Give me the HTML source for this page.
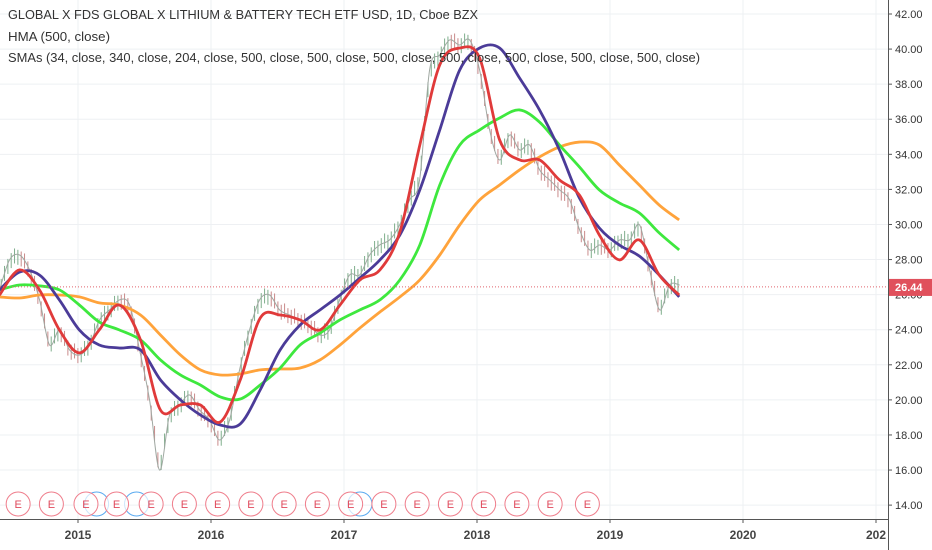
<!DOCTYPE html>
<html><head><meta charset="utf-8"><style>
html,body{margin:0;padding:0;background:#fff;}
svg{display:block;font-family:"Liberation Sans",sans-serif;}
</style></head><body>
<svg id="chart" width="932" height="550" viewBox="0 0 932 550" xmlns="http://www.w3.org/2000/svg">
<g id="grid"></g>
<g id="candles"></g>
<g id="lines"></g>
<g id="earn"></g>
<g id="axes"></g>
<g font-size="12.5" fill="#333">
<text x="8" y="19" textLength="470" lengthAdjust="spacingAndGlyphs">GLOBAL X FDS GLOBAL X LITHIUM &amp; BATTERY TECH ETF USD, 1D, Cboe BZX</text>
<text x="8" y="41" textLength="102" lengthAdjust="spacingAndGlyphs">HMA (500, close)</text>
<text x="8" y="62" textLength="692" lengthAdjust="spacingAndGlyphs">SMAs (34, close, 340, close, 204, close, 500, close, 500, close, 500, close, 500, close, 500, close, 500, close, 500, close)</text>
</g>
</svg>
<script>
const maDates=[2014.41,2014.56,2014.71,2014.86,2015.01,2015.16,2015.31,2015.47,2015.62,2015.77,2015.92,2016.07,2016.22,2016.37,2016.52,2016.67,2016.82,2016.97,2017.12,2017.27,2017.42,2017.57,2017.72,2017.87,2018.02,2018.17,2018.32,2018.47,2018.62,2018.77,2018.92,2019.07,2019.22,2019.37,2019.52];
const hma=[26.27,27.29,27.12,25.70,23.99,23.13,22.96,22.85,21.14,20.00,19.14,18.57,18.63,20.57,22.85,24.27,25.13,25.98,26.95,27.98,29.40,31.97,35.39,38.81,40.06,40.06,38.35,36.53,34.25,31.51,29.80,28.83,28.20,27.12,25.87];
const smaGreen=[26.27,26.55,26.50,26.27,25.41,24.44,23.99,23.42,22.28,21.42,20.85,20.17,20.05,20.85,21.82,23.13,23.81,24.56,25.13,25.70,26.84,28.83,32.25,34.53,35.39,36.07,36.53,35.84,34.53,33.28,31.97,31.23,30.66,29.52,28.55];
const smaOrange=[25.87,25.81,25.98,25.98,25.87,25.53,25.41,24.84,23.70,22.56,21.71,21.42,21.48,21.71,21.76,21.82,22.28,23.13,24.10,25.01,25.87,26.84,28.26,29.97,31.40,32.25,33.11,33.85,34.42,34.70,34.53,33.39,32.25,31.11,30.26];
const smaRed=[25.98,27.41,26.27,23.99,22.68,23.99,25.41,23.42,19.42,19.71,19.71,18.74,21.14,24.67,24.84,24.56,23.99,25.41,26.84,27.41,29.57,34.53,39.10,40.06,39.49,34.82,33.68,33.68,32.54,31.68,29.40,27.98,29.12,27.12,25.98];
const closes=[26.27,27.98,28.26,27.41,25.70,23.13,23.99,22.85,22.56,23.13,24.56,25.13,25.70,25.41,22.85,20.00,16.00,19.14,19.71,20.28,19.42,18.85,17.71,18.85,21.71,23.99,25.70,25.98,25.13,24.84,24.56,24.27,23.70,23.99,25.70,27.12,27.12,28.26,28.83,29.12,29.97,31.40,32.54,38.81,39.66,40.52,40.23,40.52,38.81,35.39,33.68,35.10,34.25,34.53,33.11,32.54,31.97,31.40,29.69,28.55,28.83,28.55,29.12,29.12,29.97,27.41,25.13,26.55,26.55];
const priceStart=2014.41, priceStep=0.0752;
const priceTicks=[42,40,38,36,34,32,30,28,26,24,22,20,18,16,14];
const yearTicks=[2015,2016,2017,2018,2019,2020,2021];
const yearLabels=["2015","2016","2017","2018","2019","2020","202"];
const earnDates=[2014.55,2014.80,2015.06,2015.29,2015.55,2015.80,2016.05,2016.30,2016.55,2016.80,2017.05,2017.30,2017.55,2017.80,2018.05,2018.30,2018.55,2018.83];
const divDates=[2015.14,2015.44,2017.12];
const lastPrice=26.44;

const NS="http://www.w3.org/2000/svg";
const X=t=>78+(t-2015)*133;
const Y=p=>14+(42-p)*17.54;
function mk(tag,attrs,parent){const e=document.createElementNS(NS,tag);for(const k in attrs)e.setAttribute(k,attrs[k]);parent.appendChild(e);return e;}
function smooth(pts){let d='M'+pts[0][0]+','+pts[0][1];
for(let i=0;i<pts.length-1;i++){const p0=pts[Math.max(0,i-1)],p1=pts[i],p2=pts[i+1],p3=pts[Math.min(pts.length-1,i+2)];
const c1x=p1[0]+(p2[0]-p0[0])/6,c1y=p1[1]+(p2[1]-p0[1])/6,c2x=p2[0]-(p3[0]-p1[0])/6,c2y=p2[1]-(p3[1]-p1[1])/6;
d+=' C'+c1x+','+c1y+' '+c2x+','+c2y+' '+p2[0]+','+p2[1];}return d;}
const grid=document.getElementById('grid'),axes=document.getElementById('axes'),cg=document.getElementById('candles'),lg=document.getElementById('lines'),eg=document.getElementById('earn');
priceTicks.forEach(p=>{const l=mk('line',{x1:0,x2:888,y1:Y(p),y2:Y(p),stroke:'#eef0f3'},grid);


const t=mk('text',{x:895,y:Y(p)+4,'font-size':11,fill:'#333'},axes);t.textContent=p.toFixed(2);


mk('line',{x1:888,x2:892,y1:Y(p),y2:Y(p),stroke:'#555'},axes);});
yearTicks.forEach((yr,i)=>{const l=mk('line',{x1:X(yr),x2:X(yr),y1:0,y2:519,stroke:'#eef0f3'},grid);


const t=mk('text',{x:X(yr),y:539,'font-size':12,'font-weight':'bold',fill:'#444','text-anchor':'middle'},axes);t.textContent=yearLabels[i];


mk('line',{x1:X(yr),x2:X(yr),y1:519,y2:523,stroke:'#555'},axes);});
mk('line',{x1:888.5,x2:888.5,y1:0,y2:550,stroke:'#555'},axes);
mk('line',{x1:0,x2:888,y1:519.5,y2:519.5,stroke:'#555'},axes);
// candles
for(let i=1;i<closes.length;i++){const a=closes[i-1],b=closes[i];const up=b>=a;
for(let k=0;k<3;k++){const t=priceStart+(i-1+(k+0.5)/3)*priceStep;const v=a+(b-a)*(k+0.5)/3;
const c=mk('line',{x1:X(t),x2:X(t),y1:Y(v)-6-(k%2)*3,y2:Y(v)+6+((k+1)%2)*3,stroke:up?'#7fae8c':'#c98a8a','stroke-width':1},cg);

}}
const pl=mk('path',{d:smooth(closes.map((v,i)=>[X(priceStart+i*priceStep),Y(v)])),fill:'none',stroke:'#a0a8a2','stroke-width':1},cg);


const lp=mk('line',{x1:0,x2:888,y1:Y(lastPrice),y2:Y(lastPrice),stroke:'#e0646c','stroke-dasharray':'1,2'},axes);


[[smaOrange,'#ffa33b','sma-orange'],[smaGreen,'#3ee83e','sma-green'],[hma,'#4b3b98','hma-line'],[smaRed,'#e03a3a','sma-red']].forEach(([arr,col,nm])=>{
const p=mk('path',{d:smooth(arr.map((v,i)=>[X(maDates[i]),Y(v)])),fill:'none',stroke:col,'stroke-width':2.8,'stroke-linejoin':'round'},lg);

});
divDates.forEach(d=>{const c=mk('circle',{cx:X(d),cy:504,r:12,fill:'none',stroke:'#5aaaf0','stroke-width':1},eg);

});
earnDates.forEach(d=>{const g=mk('g',{},eg);


mk('circle',{cx:X(d),cy:504,r:12,fill:'#fff','fill-opacity':0.7,stroke:'#ef7e8c','stroke-width':1},g);
const t=mk('text',{x:X(d),y:508,'font-size':11,fill:'#e04a5c','text-anchor':'middle'},g);t.textContent='E';});
const pg=mk('g',{},axes);


mk('rect',{x:889,y:Y(lastPrice)-8,width:43,height:17,fill:'#e0505c'},pg);
const pt=mk('text',{x:895,y:Y(lastPrice)+4,'font-size':11,fill:'#fff','font-weight':'bold'},pg);pt.textContent=lastPrice.toFixed(2);
</script>
</body></html>
